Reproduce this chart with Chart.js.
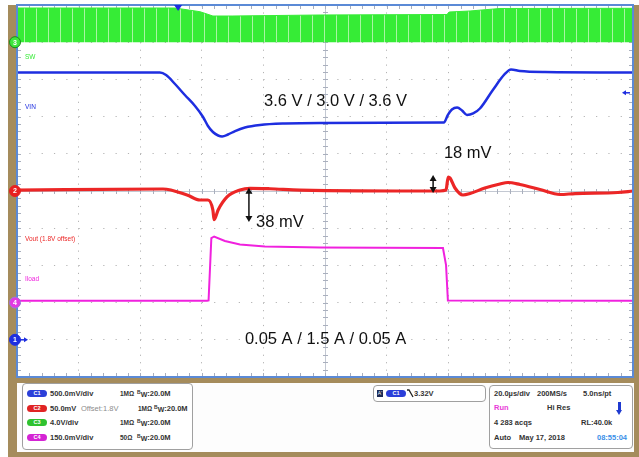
<!DOCTYPE html>
<html><head><meta charset="utf-8">
<script src="https://cdn.jsdelivr.net/npm/chart.js@4.4.1/dist/chart.umd.min.js"></script>
<style>
html,body{margin:0;padding:0;background:#fff;}
#wrap{position:relative;width:639px;height:457px;overflow:hidden;font-family:"Liberation Sans",Arial,sans-serif;}
#frame{position:absolute;left:8px;top:5px;width:631px;height:452px;background:#a58c5c;}
#bottom{position:absolute;left:17px;top:383px;width:617px;height:69px;background:#fdfdfd;}
#c{position:absolute;left:0;top:0;}
.box{position:absolute;border:1px solid #a0a0a0;border-radius:4px;background:#fff;box-sizing:border-box;}
.t{position:absolute;font-size:7.5px;font-weight:bold;color:#333;white-space:nowrap;line-height:8px;height:8px;}
.n{font-size:6.5px;}
.pill{position:absolute;width:20px;height:7px;border-radius:4px;color:#fff;font-size:5.5px;text-align:center;line-height:7px;font-weight:bold;}
.b1{font-size:5px;position:relative;top:-2px;}
.b2{font-size:7px;position:relative;top:1px;}
</style></head>
<body>
<div id="wrap">
  <div id="frame"></div>
  <div id="bottom"></div>
  <canvas id="c" width="639" height="457"></canvas>

  <div class="box" style="left:22px;top:383px;width:171px;height:67px;"></div>
  <div class="pill" style="left:27px;top:390px;background:#2b3fd9;">C1</div>
  <div class="t" style="left:50px;top:390px;">500.0mV/div</div>
  <div class="t n" style="left:120px;top:390px;">1MΩ</div>
  <div class="t" style="left:137px;top:390px;"><span class="b1">B</span><span class="b2">W</span>:20.0M</div>

  <div class="pill" style="left:27px;top:405px;background:#e02424;">C2</div>
  <div class="t" style="left:50px;top:405px;">50.0mV</div>
  <div class="t" style="left:81px;top:405px;color:#8c8c8c;font-weight:normal;">Offset:1.8V</div>
  <div class="t n" style="left:138px;top:405px;">1MΩ</div>
  <div class="t" style="left:154px;top:405px;"><span class="b1">B</span><span class="b2">W</span>:20.0M</div>

  <div class="pill" style="left:27px;top:419px;background:#2fc22f;">C3</div>
  <div class="t" style="left:50px;top:419px;">4.0V/div</div>
  <div class="t n" style="left:120px;top:419px;">1MΩ</div>
  <div class="t" style="left:137px;top:419px;"><span class="b1">B</span><span class="b2">W</span>:20.0M</div>

  <div class="pill" style="left:27px;top:434px;background:#d424d4;">C4</div>
  <div class="t" style="left:50px;top:434px;">150.0mV/div</div>
  <div class="t n" style="left:120px;top:434px;">50Ω</div>
  <div class="t" style="left:137px;top:434px;"><span class="b1">B</span><span class="b2">W</span>:20.0M</div>

  <div class="box" style="left:373px;top:385px;width:113px;height:17px;"></div>
  <div style="position:absolute;left:377px;top:390px;width:6px;height:7px;background:#1c2a55;color:#fff;font-size:5px;line-height:7px;text-align:center;">A'</div>
  <div class="pill" style="left:386px;top:390px;background:#2b3fd9;">C1</div>
  <svg style="position:absolute;left:407px;top:389px;" width="7" height="9"><polyline points="0,1 2,1 6,8" fill="none" stroke="#222" stroke-width="1.3"/></svg>
  <div class="t" style="left:414px;top:390px;">3.32V</div>

  <div class="box" style="left:489px;top:385px;width:144px;height:64px;"></div>
  <div class="t" style="left:494px;top:390px;">20.0µs/div</div>
  <div class="t" style="left:537px;top:390px;">200MS/s</div>
  <div class="t" style="left:583px;top:390px;">5.0ns/pt</div>
  <div class="t" style="left:494px;top:404px;color:#e83ad8;">Run</div>
  <div class="t" style="left:547px;top:404px;">Hi Res</div>
  <div style="position:absolute;left:618px;top:402px;width:3px;height:9px;background:#1f3ad0;"></div>
  <div style="position:absolute;left:616px;top:410px;width:0;height:0;border-left:3.5px solid transparent;border-right:3.5px solid transparent;border-top:5px solid #1f3ad0;"></div>
  <div class="t" style="left:494px;top:419px;">4 283 acqs</div>
  <div class="t" style="left:581px;top:419px;">RL:40.0k</div>
  <div class="t" style="left:494px;top:434px;">Auto</div>
  <div class="t" style="left:519px;top:434px;">May 17, 2018</div>
  <div class="t" style="left:597px;top:434px;color:#3a8fe8;">08:55:04</div>
</div>
<script>
// ---- data (time in µs, 20 µs/div) ----
const vinTime  = [0, 46.4, 48.4, 51.3, 54.5, 57.8, 60.4, 62.0, 63.6, 65.3, 66.6, 68.5, 70.8, 74.0, 78.9, 87.0, 98.4, 138.6, 139.9, 141.2, 142.9, 144.5, 146.1, 148.1, 150.3, 154.5, 158.4, 160.4, 163.3, 171.4, 200];
const vinVolts = [3.593, 3.593, 3.559, 3.438, 3.290, 3.142, 2.995, 2.874, 2.793, 2.746, 2.733, 2.759, 2.806, 2.853, 2.887, 2.907, 2.914, 2.921, 3.022, 3.095, 3.122, 3.082, 3.022, 3.042, 3.109, 3.358, 3.573, 3.633, 3.613, 3.599, 3.593];

const voutTime  = [0, 47.4, 55.2, 59.4, 62.0, 63.6, 64.0, 65.3, 68.2, 72.4, 75.6, 82.1, 91.9, 137.3, 139.3, 140.0, 140.6, 142.2, 144.8, 147.1, 151.9, 156.8, 159.4, 163.3, 169.8, 176.3, 181.2, 195.1, 200];
const voutVolts = [1.8013, 1.8027, 1.7946, 1.7879, 1.7879, 1.7745, 1.7614, 1.7745, 1.7920, 1.8013, 1.8036, 1.8030, 1.8013, 1.8000, 1.8013, 1.8188, 1.8175, 1.8040, 1.7946, 1.7966, 1.8040, 1.8094, 1.8114, 1.8087, 1.8020, 1.7953, 1.7966, 1.7980, 1.8000];

const swTime      = [0, 51.3, 59.4, 63.6, 70.1, 98.4, 139.6, 140.3, 147.1, 156.8, 200];
const swHighVolts = [3.677, 3.677, 3.280, 2.817, 2.817, 2.925, 2.978, 3.247, 3.355, 3.624, 3.645];

const iloadTime = [0, 61.7, 62.2, 63.1, 64.0, 67.5, 72.4, 80.5, 98.4, 138.3, 139.3, 139.9, 200];
const iloadAmps = [0.05, 0.05, 0.06, 1.736, 1.777, 1.656, 1.562, 1.508, 1.481, 1.468, 1.011, 0.056, 0.05];

const annotations = ["3.6 V / 3.0 V / 3.6 V", "18 mV", "38 mV", "0.05 A / 1.5 A / 0.05 A"];
const traceLabels = ["SW", "VIN", "Vout (1.8V offset)", "Iload"];
const triggerLevelV = 3.32;
const triggerTimeUs = 52.3;

const pts = (xs, ys) => xs.map((t, i) => ({x: t, y: ys[i]}));

const COL = {vin:'#1e2ee0', vout:'#ec2626', sw:'#36ec36', iload:'#f021de'};

// light vertical stripes in the switching band
const pc = document.createElement('canvas'); pc.width = 12; pc.height = 4;
const pctx = pc.getContext('2d');
pctx.fillStyle = COL.sw; pctx.fillRect(0,0,12,4);
pctx.fillStyle = '#a9f5a3'; pctx.fillRect(0,0,1,4);
const swPattern = document.getElementById('c').getContext('2d').createPattern(pc, 'repeat');

function arrowV(ctx, x, y1, y2) {
  ctx.beginPath(); ctx.moveTo(x, y1 + 3); ctx.lineTo(x, y2 - 3); ctx.stroke();
  ctx.beginPath(); ctx.moveTo(x, y1); ctx.lineTo(x - 3.5, y1 + 6); ctx.lineTo(x + 3.5, y1 + 6); ctx.closePath(); ctx.fill();
  ctx.beginPath(); ctx.moveTo(x, y2); ctx.lineTo(x - 3.5, y2 - 6); ctx.lineTo(x + 3.5, y2 - 6); ctx.closePath(); ctx.fill();
}
function marker(ctx, x, y, fill, stroke, txt) {
  ctx.beginPath(); ctx.arc(x, y, 5.5, 0, Math.PI*2); ctx.fillStyle = fill; ctx.fill();
  ctx.lineWidth = 1; ctx.strokeStyle = stroke; ctx.stroke();
  ctx.fillStyle = '#fff'; ctx.font = 'bold 7px "Liberation Sans", Arial'; ctx.textAlign = 'center'; ctx.textBaseline = 'middle';
  ctx.fillText(txt, x, y + 0.5);
}

const scopePlugin = {
  id: 'scope',
  beforeDraw(chart) {
    const {ctx, chartArea: a} = chart;
    ctx.save(); ctx.fillStyle = '#fff'; ctx.fillRect(a.left, a.top, a.right - a.left, a.bottom - a.top); ctx.restore();
  },
  beforeDatasetsDraw(chart) {
    const {ctx, chartArea: a, scales: {x, y}} = chart;
    ctx.save();
    ctx.strokeStyle = '#c3c8d2'; ctx.lineWidth = 1;
    const cx = Math.round(x.getPixelForValue(100)) + 0.5, cy = Math.round(y.getPixelForValue(0)) + 0.5;
    ctx.beginPath(); ctx.moveTo(a.left, cy); ctx.lineTo(a.right, cy); ctx.moveTo(cx, a.top); ctx.lineTo(cx, a.bottom); ctx.stroke();
    ctx.strokeStyle = '#a9afbd';
    ctx.beginPath();
    for (let k = 0; k <= 50; k++) {
      const px = Math.round(x.getPixelForValue(k * 4)) + 0.5;
      ctx.moveTo(px, a.top); ctx.lineTo(px, a.top + 4);
      ctx.moveTo(px, a.bottom); ctx.lineTo(px, a.bottom - 4);
      ctx.moveTo(px, cy - 2.5); ctx.lineTo(px, cy + 2.5);
    }
    for (let k = 0; k <= 50; k++) {
      const py = Math.round(y.getPixelForValue(-5 + k * 0.2)) + 0.5;
      ctx.moveTo(a.left, py); ctx.lineTo(a.left + 4, py);
      ctx.moveTo(a.right, py); ctx.lineTo(a.right - 4, py);
      ctx.moveTo(cx - 2.5, py); ctx.lineTo(cx + 2.5, py);
    }
    ctx.stroke();
    ctx.restore();
  },
  afterDatasetsDraw(chart) {
    const {ctx, chartArea: a, scales: s} = chart;
    const x = s.x, y = s.y;
    ctx.save();
    // border
    ctx.strokeStyle = '#5b8ad6'; ctx.lineWidth = 2;
    ctx.strokeRect(a.left, a.top, a.right - a.left, a.bottom - a.top);
    // trace labels
    ctx.font = '6.5px "Liberation Sans", Arial'; ctx.textAlign = 'left'; ctx.textBaseline = 'middle';
    const lx = x.getPixelForValue(2.6);
    ctx.fillStyle = COL.sw;    ctx.fillText(traceLabels[0], lx, y.getPixelForValue(3.6));
    ctx.fillStyle = COL.vin;   ctx.fillText(traceLabels[1], lx, y.getPixelForValue(2.26));
    ctx.fillStyle = COL.vout;  ctx.fillText(traceLabels[2], lx, y.getPixelForValue(-1.29));
    ctx.fillStyle = COL.iload; ctx.fillText(traceLabels[3], lx, y.getPixelForValue(-2.37));
    // annotations
    ctx.fillStyle = '#111'; ctx.font = '16.5px "Liberation Sans", Arial';
    ctx.fillText(annotations[0], x.getPixelForValue(80.2), y.getPixelForValue(2.42));
    ctx.fillText(annotations[1], x.getPixelForValue(138.6), y.getPixelForValue(1.02));
    ctx.fillText(annotations[2], x.getPixelForValue(77.6), y.getPixelForValue(-0.85));
    ctx.fillText(annotations[3], x.getPixelForValue(74.0), y.getPixelForValue(-3.98));
    ctx.strokeStyle = '#111'; ctx.lineWidth = 1.5;
    arrowV(ctx, x.getPixelForValue(75.3), s.yVout.getPixelForValue(1.8045), s.yVout.getPixelForValue(1.7583));
    arrowV(ctx, x.getPixelForValue(135.1), s.yVout.getPixelForValue(1.8215), s.yVout.getPixelForValue(1.7973));
    // channel ground markers
    const mx = a.left - 2;
    marker(ctx, mx, s.ySW.getPixelForValue(0), '#3ee63e', '#1b8a1b', '3');
    marker(ctx, mx, s.yVout.getPixelForValue(1.8), '#e82020', '#e82020', '2');
    marker(ctx, mx, s.yIload.getPixelForValue(0), '#e23ae2', '#9a7ad8', '4');
    const g1 = s.yVin.getPixelForValue(0);
    marker(ctx, mx, g1, '#1e2ee0', '#1e2ee0', '1');
    ctx.strokeStyle = '#1e2ee0'; ctx.lineWidth = 1.5;
    ctx.beginPath(); ctx.moveTo(mx + 5, g1); ctx.lineTo(mx + 10, g1); ctx.stroke();
    ctx.fillStyle = '#1e2ee0';
    ctx.beginPath(); ctx.moveTo(mx + 13, g1); ctx.lineTo(mx + 9, g1 - 2.5); ctx.lineTo(mx + 9, g1 + 2.5); ctx.closePath(); ctx.fill();
    // trigger position (top) and level (right)
    const tx = x.getPixelForValue(triggerTimeUs);
    ctx.beginPath(); ctx.moveTo(tx - 4, a.top); ctx.lineTo(tx + 4, a.top); ctx.lineTo(tx, a.top + 6); ctx.closePath(); ctx.fill();
    const ty = s.yVin.getPixelForValue(triggerLevelV);
    ctx.beginPath(); ctx.moveTo(a.right - 11, ty); ctx.lineTo(a.right - 7, ty - 2.5); ctx.lineTo(a.right - 7, ty + 2.5); ctx.closePath(); ctx.fill();
    ctx.beginPath(); ctx.moveTo(a.right - 8, ty); ctx.lineTo(a.right - 3, ty); ctx.stroke();
    ctx.restore();
  }
};

new Chart(document.getElementById('c'), {
  type: 'line',
  data: {
    datasets: [
      {label: 'VIN', data: pts(vinTime, vinVolts), yAxisID: 'yVin', borderColor: COL.vin, borderWidth: 2.5, pointRadius: 0, cubicInterpolationMode: 'monotone', fill: false},
      {label: 'Vout', data: pts(voutTime, voutVolts), yAxisID: 'yVout', borderColor: COL.vout, borderWidth: 3.2, pointRadius: 0, cubicInterpolationMode: 'monotone', fill: false},
      {label: 'Iload', data: pts(iloadTime, iloadAmps), yAxisID: 'yIload', borderColor: COL.iload, borderWidth: 2, pointRadius: 0, tension: 0, fill: false},
      {label: 'SW', data: pts(swTime, swHighVolts), yAxisID: 'ySW', borderColor: COL.sw, borderWidth: 1, pointRadius: 0, tension: 0, backgroundColor: swPattern, fill: {value: 0}}
    ]
  },
  options: {
    responsive: false, animation: false, events: [],
    layout: {padding: {left: 17, top: 5, right: 6, bottom: 80}},
    plugins: {legend: {display: false}, tooltip: {enabled: false}, title: {display: false}},
    scales: {
      x: {type: 'linear', min: 0, max: 200, ticks: {display: false, stepSize: 20}, grid: {color: '#b4b4b4', drawTicks: false, lineWidth: 1}, border: {display: false, dash: [1.2, 6.24]}},
      y: {type: 'linear', min: -5, max: 5, ticks: {display: false, stepSize: 1}, grid: {color: '#b4b4b4', drawTicks: false, lineWidth: 1}, border: {display: false, dash: [1.2, 11.12]}},
      yVin:   {type: 'linear', display: false, min: -0.5, max: 4.5},   // 500 mV/div, ground 4 div below centre
      yVout:  {type: 'linear', display: false, min: 1.55, max: 2.05},  // 50 mV/div, 1.8 V offset at centre
      ySW:    {type: 'linear', display: false, min: -36, max: 4},      // 4 V/div, ground 4 div above centre
      yIload: {type: 'linear', display: false, min: -2, max: 8}        // ~1 A/div, ground 3 div below centre
    }
  },
  plugins: [scopePlugin]
});
</script>
</body></html>
